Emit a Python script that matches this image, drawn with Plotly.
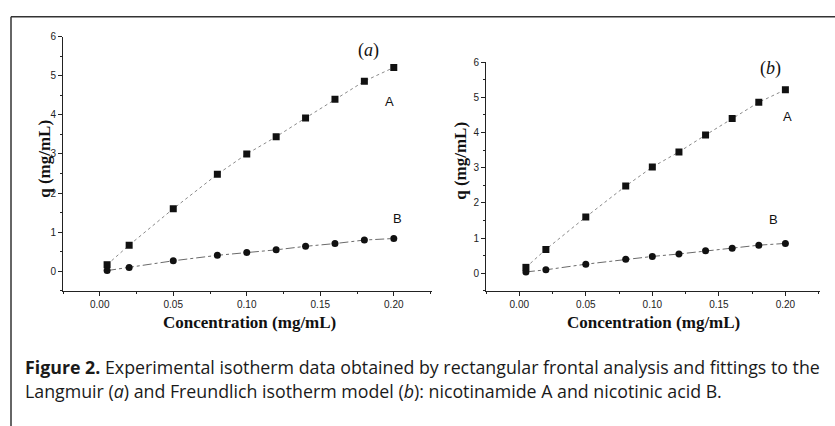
import plotly.graph_objects as go

W, H = 835, 426

conc = [0.005, 0.02, 0.05, 0.08, 0.10, 0.12, 0.14, 0.16, 0.18, 0.20]
q_A_a = [0.17, 0.67, 1.60, 2.48, 3.00, 3.44, 3.92, 4.40, 4.86, 5.21]
q_B_a = [0.02, 0.10, 0.27, 0.41, 0.48, 0.55, 0.64, 0.71, 0.80, 0.84]
q_A_b = [0.17, 0.68, 1.60, 2.48, 3.02, 3.45, 3.93, 4.40, 4.86, 5.22]
q_B_b = [0.04, 0.10, 0.26, 0.40, 0.48, 0.55, 0.64, 0.71, 0.80, 0.85]

x_ticks = [0.00, 0.05, 0.10, 0.15, 0.20]
y_ticks = [0, 1, 2, 3, 4, 5, 6]

def px_x(p):
    return p / W

def px_y(p):
    return 1 - p / H

fig = go.Figure()

for xa, ya, qa, qb in [("x", "y", q_A_a, q_B_a), ("x2", "y2", q_A_b, q_B_b)]:
    fig.add_trace(go.Scatter(x=conc, y=qa, xaxis=xa, yaxis=ya, mode="lines",
                             line=dict(color="#8a8a8a", width=1, dash="dot"),
                             showlegend=False, hoverinfo="skip"))
    fig.add_trace(go.Scatter(x=conc, y=qb, xaxis=xa, yaxis=ya, mode="lines",
                             line=dict(color="#6a6a6a", width=1, dash="dashdot"),
                             showlegend=False, hoverinfo="skip"))
    fig.add_trace(go.Scatter(x=conc, y=qa, xaxis=xa, yaxis=ya, mode="markers",
                             marker=dict(symbol="square", size=7, color="#111"),
                             showlegend=False))
    fig.add_trace(go.Scatter(x=conc, y=qb, xaxis=xa, yaxis=ya, mode="markers",
                             marker=dict(symbol="circle", size=7, color="#111"),
                             showlegend=False))

tick_font = dict(family="Arial, Liberation Sans, sans-serif", size=10, color="#222")
serif = "Times New Roman, Liberation Serif, serif"
sans = "Arial, Liberation Sans, sans-serif"

def xaxis_cfg(x0, x1, y_px):
    return dict(domain=[px_x(x0), px_x(x1)], range=[-0.025, 0.226],
                tickvals=x_ticks, tickformat=".2f", ticks="outside", ticklen=4,
                tickcolor="#222", showline=True, linecolor="#222", linewidth=1,
                showgrid=False, zeroline=False, tickfont=tick_font,
                minor=dict(dtick=0.025, tick0=0, ticks="outside", ticklen=2, tickcolor="#222"),
                anchor=y_px, fixedrange=True)

def yaxis_cfg(y_top, y_bot, anchor):
    return dict(domain=[px_y(y_bot), px_y(y_top)], range=[-0.5, 6],
                tickvals=y_ticks, ticks="outside", ticklen=4, tickcolor="#222",
                showline=True, linecolor="#222", linewidth=1, showgrid=False,
                zeroline=False, tickfont=tick_font,
                minor=dict(dtick=0.5, tick0=0, ticks="outside", ticklen=2, tickcolor="#222"),
                anchor=anchor, fixedrange=True)

fig.update_layout(
    width=W, height=H, margin=dict(l=0, r=0, t=0, b=0),
    paper_bgcolor="white", plot_bgcolor="white",
    xaxis=xaxis_cfg(63, 432, "y"),
    yaxis=yaxis_cfg(31, 289, "x"),
    xaxis2=xaxis_cfg(486, 820, "y2"),
    yaxis2=yaxis_cfg(57, 289, "x2"),
)

labels = [
    ("(<i>a</i>)", 368, 45, serif, 18, 0),
    ("A", 389, 97, sans, 13, 0),
    ("B", 397, 216, sans, 13, 0),
    ("(<i>b</i>)", 770, 63, serif, 18, 0),
    ("A", 787, 112, sans, 13, 0),
    ("B", 773, 217, sans, 13, 0),
    ("<b>q (mg/mL)</b>", 45, 155, serif, 17, -90),
    ("<b>q (mg/mL)</b>", 461, 157, serif, 17, -90),
    ("<b>Concentration (mg/mL)</b>", 249, 321, serif, 17, 0),
    ("<b>Concentration (mg/mL)</b>", 653, 321, serif, 17, 0),
]
for txt, xp, yp, fam, sz, ang in labels:
    fig.add_annotation(x=px_x(xp), y=px_y(yp), xref="paper", yref="paper",
                       text=txt, showarrow=False, xanchor="center", yanchor="middle",
                       textangle=ang, font=dict(family=fam, size=sz, color="#111"))

cap_font = dict(family="Open Sans, sans-serif", size=17.8, color="#1a1a1a")
fig.add_annotation(x=px_x(23), y=px_y(366), xref="paper", yref="paper",
                   text="<b>Figure 2.</b> Experimental isotherm data obtained by rectangular frontal analysis and fittings to the",
                   showarrow=False, xanchor="left", yanchor="middle", font=cap_font)
fig.add_annotation(x=px_x(23), y=px_y(390), xref="paper", yref="paper",
                   text="Langmuir (<i>a</i>) and Freundlich isotherm model (<i>b</i>): nicotinamide A and nicotinic acid B.",
                   showarrow=False, xanchor="left", yanchor="middle", font=cap_font)

fig.add_shape(type="line", xref="paper", yref="paper", x0=px_x(11), x1=1.0,
              y0=px_y(11), y1=px_y(11), line=dict(color="#333", width=1.5))
fig.add_shape(type="line", xref="paper", yref="paper", x0=px_x(11), x1=px_x(11),
              y0=0, y1=px_y(11), line=dict(color="#333", width=1.5))

fig.write_html("out.html")
